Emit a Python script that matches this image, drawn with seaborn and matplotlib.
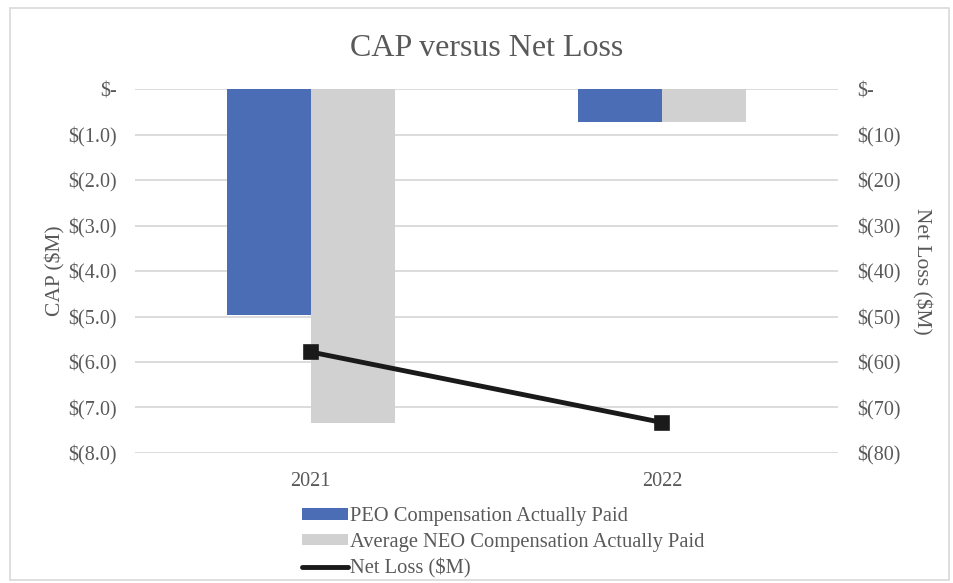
import matplotlib
matplotlib.use("Agg")
import matplotlib.pyplot as plt
import seaborn as sns
import pandas as pd
from matplotlib.ticker import FuncFormatter, FixedLocator
from matplotlib.patches import Rectangle, Patch
from matplotlib.lines import Line2D

years = ["2021", "2022"]
peo_cap = [-4.97, -0.72]
neo_cap = [-7.35, -0.72]
net_loss = [-57.8, -73.3]
series_names = ["PEO Compensation Actually Paid", "Average NEO Compensation Actually Paid"]
line_name = "Net Loss ($M)"
left_ticks = [0, -1, -2, -3, -4, -5, -6, -7, -8]
right_ticks = [0, -10, -20, -30, -40, -50, -60, -70, -80]

sns.set_theme(style="white")
plt.rcParams["font.family"] = ["Liberation Serif", "DejaVu Serif"]

TXT = "#595959"
BLUE = "#4A6DB5"
GRAY = "#D0D1D0"

bars = pd.DataFrame({
    "year": years * 2,
    "value": peo_cap + neo_cap,
    "series": [series_names[0]] * 2 + [series_names[1]] * 2,
})
line_df = pd.DataFrame({"year": years, "loss": net_loss})

fig = plt.figure(figsize=(9.54, 5.83), dpi=100)
fig.patches.append(Rectangle((0.011, 0.006), 0.984, 0.98, transform=fig.transFigure,
                             fill=False, edgecolor="#D9D9D9", linewidth=1.2))
ax = fig.add_axes([0.1415, 0.223, 0.7369, 0.6243])

sns.barplot(data=bars, x="year", y="value", hue="series", order=years,
            hue_order=series_names, palette=[BLUE, GRAY], width=0.478, gap=0,
            ax=ax, legend=False, linewidth=0, saturation=1)
ax.set_ylim(-8, 0)
ax.yaxis.set_major_locator(FixedLocator(left_ticks))
ax.yaxis.set_major_formatter(FuncFormatter(lambda v, p: "$-" if abs(v) < 1e-9 else f"$({abs(v):.1f})"))
ax.grid(axis="y", color="#D9D9D9", linewidth=1.3)
ax.set_axisbelow(True)
for s in ax.spines.values():
    s.set_visible(False)
ax.tick_params(axis="both", length=0, labelsize=14.5, colors=TXT)
ax.tick_params(axis="y", pad=13)
ax.tick_params(axis="x", pad=14)
ax.set_xlabel("")
ax.set_ylabel("CAP ($M)", fontsize=15.5, color=TXT, labelpad=2)
ax.set_xlim(-0.5, 1.5)

ax2 = ax.twinx()
sns.pointplot(data=line_df, x="year", y="loss", order=years, color="#1A1A1A",
              markers="s", markersize=9, linewidth=3.5, ax=ax2, errorbar=None)
ax2.set_ylim(-80, 0)
ax2.yaxis.set_major_locator(FixedLocator(right_ticks))
ax2.yaxis.set_major_formatter(FuncFormatter(lambda v, p: "$-" if abs(v) < 1e-9 else f"$({abs(v):.0f})"))
for s in ax2.spines.values():
    s.set_visible(False)
ax2.tick_params(axis="y", length=0, labelsize=14.5, colors=TXT, pad=14)
ax2.set_ylabel("Net Loss ($M)", fontsize=15.5, color=TXT, rotation=270, labelpad=22)
ax2.grid(False)
ax2.set_xlim(-0.5, 1.5)

fig.suptitle("CAP versus Net Loss", fontsize=23, color=TXT, x=0.51, y=0.942)

handles = [Patch(facecolor=BLUE, edgecolor="none"), Patch(facecolor=GRAY, edgecolor="none"),
           Line2D([0], [0], color="#1A1A1A", linewidth=3.5)]
fig.legend(handles, series_names + [line_name], loc="upper left",
           bbox_to_anchor=(0.317, 0.13), frameon=False, fontsize=14.8,
           labelcolor=TXT, handlelength=2.2, handleheight=0.5, handletextpad=0.1,
           labelspacing=0.32, borderpad=0, borderaxespad=0)

fig.savefig("out.png", dpi=100)
